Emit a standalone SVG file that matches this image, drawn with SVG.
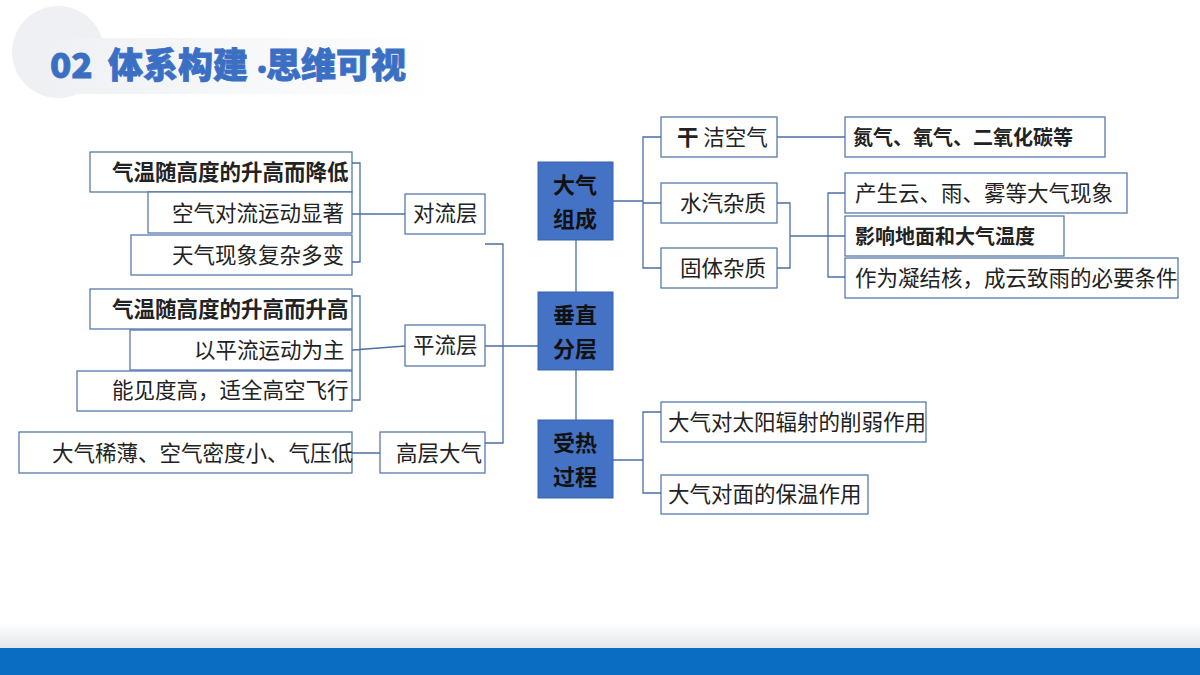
<svg xmlns="http://www.w3.org/2000/svg" width="1200" height="675" viewBox="0 0 1200 675">
<defs>
<linearGradient id="hb" x1="0" x2="1" y1="0" y2="0"><stop offset="0" stop-color="#eef0f3"/><stop offset="1" stop-color="#ffffff"/></linearGradient>
<linearGradient id="fb" x1="0" x2="0" y1="0" y2="1"><stop offset="0" stop-color="#ffffff"/><stop offset="1" stop-color="#e4e7ea"/></linearGradient>
</defs>
<style>
text{font-family:"Noto Sans CJK SC","Noto Sans",sans-serif;font-size:21.5px;fill:#222}
.b{font-weight:bold}
.box{fill:#fff;stroke:#4a6fa5;stroke-width:1.2}
.hub{fill:#4472c4;stroke:#3a62a8}
.ht{fill:#111;font-weight:bold;font-size:22px}
.c{fill:none;stroke:#4a6fa5;stroke-width:1.3}
.tt{font-size:35px;font-weight:900;fill:#3a6fc4;stroke:#3a6fc4;stroke-width:0.8}
</style>
<rect width="1200" height="675" fill="#fff"/>
<circle cx="58" cy="52" r="46" fill="#eef0f3"/>
<rect x="40" y="38" width="400" height="56" fill="url(#hb)"/>
<g id="title">
<text class="tt" x="50" y="78">02</text>
<text class="tt" x="108" y="78">体系构建</text>
<text class="tt" x="250" y="78" style="font-size:24px">·</text>
<text class="tt" x="266" y="78">思维可视</text>
</g>
<rect x="0" y="622" width="1200" height="26" fill="url(#fb)"/>
<rect x="0" y="648" width="1200" height="27" fill="#0b6dbf"/>

<g id="connectors">
<path class="c" d="M352,163 H360 V262 H352 M340,214 H405"/>
<path class="c" d="M485,244 H503 V443 H485 M485,346 H538"/>
<path class="c" d="M352,296 H360 V400 H352 M340,351 L405,346"/>
<path class="c" d="M340,453 H380"/>
<path class="c" d="M576,240 V292 M576,370 V420"/>
<path class="c" d="M613,201 H643 M661,137 H643 V268 H661 M643,203 H661"/>
<path class="c" d="M777,137 H845"/>
<path class="c" d="M777,203 H790 V268 H777 M790,236 H828 M845,193 H828 V277 H845 M828,236 H845"/>
<path class="c" d="M613,460 H643 M661,412 H643 V493 H661"/>
</g>

<g id="n-dlc"><rect class="box" x="405" y="194" width="80" height="40"/><text x="413" y="221">对流层</text></g>
<g id="n-dl1"><rect class="box" x="90" y="152" width="262" height="40"/><text class="b" x="112" y="180">气温随高度的升高而降低</text></g>
<g id="n-dl2"><rect class="box" x="148" y="192" width="204" height="41"/><text x="172" y="221">空气对流运动显著</text></g>
<g id="n-dl3"><rect class="box" x="131" y="235" width="221" height="40"/><text x="172" y="263">天气现象复杂多变</text></g>
<g id="n-plc"><rect class="box" x="405" y="325" width="80" height="41"/><text x="413" y="353">平流层</text></g>
<g id="n-pl1"><rect class="box" x="90" y="289" width="262" height="40"/><text class="b" x="112" y="317">气温随高度的升高而升高</text></g>
<g id="n-pl2"><rect class="box" x="130" y="330" width="222" height="40"/><text x="194" y="358">以平流运动为主</text></g>
<g id="n-pl3"><rect class="box" x="77" y="371" width="275" height="40"/><text x="112" y="398">能见度高，适全高空飞行</text></g>
<g id="n-gc"><rect class="box" x="380" y="432" width="105" height="41"/><text x="396" y="461">高层大气</text></g>
<g id="n-gc1"><rect class="box" x="19" y="432" width="333" height="41"/><text x="52" y="461">大气稀薄、空气密度小、气压低</text></g>

<g id="n-dqzc"><rect class="hub" x="538" y="162" width="75" height="78"/><text class="ht" x="553" y="193">大气</text><text class="ht" x="553" y="227">组成</text></g>
<g id="n-czfc"><rect class="hub" x="538" y="292" width="75" height="78"/><text class="ht" x="553" y="323">垂直</text><text class="ht" x="553" y="357">分层</text></g>
<g id="n-srgc"><rect class="hub" x="538" y="420" width="75" height="78"/><text class="ht" x="553" y="451">受热</text><text class="ht" x="553" y="485">过程</text></g>

<g id="n-gj"><rect class="box" x="661" y="117" width="116" height="40"/><text x="677" y="145"><tspan class="b">干</tspan> 洁空气</text></g>
<g id="n-gj1"><rect class="box" x="845" y="117" width="260" height="40"/><text class="b" x="853" y="145" style="font-size:20px">氮气、氧气、二氧化碳等</text></g>
<g id="n-sq"><rect class="box" x="661" y="183" width="116" height="40"/><text x="680" y="211">水汽杂质</text></g>
<g id="n-gt"><rect class="box" x="661" y="248" width="116" height="40"/><text x="680" y="276">固体杂质</text></g>
<g id="n-z1"><rect class="box" x="845" y="173" width="282" height="40"/><text x="855" y="201">产生云、雨、雾等大气现象</text></g>
<g id="n-z2"><rect class="box" x="845" y="216" width="219" height="40"/><text class="b" x="855" y="244" style="font-size:20px">影响地面和大气温度</text></g>
<g id="n-z3"><rect class="box" x="845" y="258" width="333" height="40"/><text x="855" y="286">作为凝结核，成云致雨的必要条件</text></g>
<g id="n-r1"><rect class="box" x="661" y="402" width="265" height="40"/><text x="668" y="430">大气对太阳辐射的削弱作用</text></g>
<g id="n-r2"><rect class="box" x="661" y="475" width="207" height="39"/><text x="668" y="502">大气对面的保温作用</text></g>
</svg>
